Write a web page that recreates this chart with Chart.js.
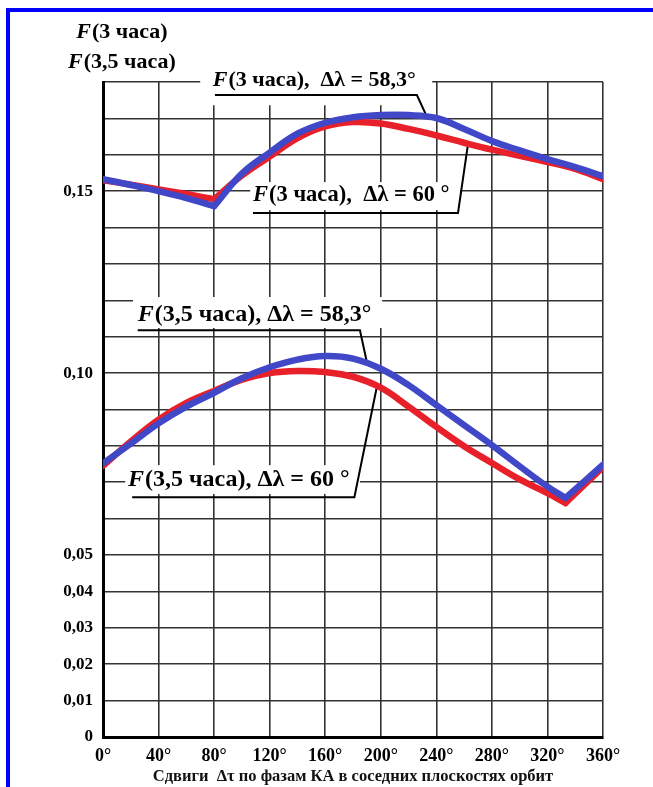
<!DOCTYPE html>
<html>
<head>
<meta charset="utf-8">
<script src="https://cdn.jsdelivr.net/npm/chart.js@4.4.1/dist/chart.umd.min.js"></script>
<style>
  html, body { margin: 0; padding: 0; background: #fff; overflow: hidden; }
  #frame { position: absolute; left: 6px; top: 8px; width: 700px; height: 900px;
           border-top: 4px solid #0000ff; border-left: 4px solid #0000ff; }
  canvas { position: absolute; left: 0; top: 0; }
</style>
</head>
<body>
<div id="frame"></div>
<canvas id="c" width="653" height="787"></canvas>
<script>
// shifts in degrees
const degUpper = [0, 20, 40, 60, 80, 100, 120, 140, 160, 180, 200, 220, 240, 260, 280, 300, 320, 340, 360];
const degLower = [0, 20, 40, 60, 80, 100, 120, 140, 160, 180, 200, 220, 240, 260, 280, 300, 320, 333, 360];

// F(3 часа)
const f3_583 = [0.1533, 0.1517, 0.1500, 0.1481, 0.1459, 0.1548, 0.1606, 0.1658, 0.1688, 0.1703, 0.1709, 0.1709, 0.1701, 0.1671, 0.1638, 0.1612, 0.1588, 0.1566, 0.1541];
const f3_60  = [0.1530, 0.1518, 0.1505, 0.1492, 0.1478, 0.1543, 0.1595, 0.1646, 0.1678, 0.1690, 0.1686, 0.1671, 0.1653, 0.1633, 0.1614, 0.1597, 0.1580, 0.1561, 0.1533];
// F(3,5 часа)
const f35_583 = [0.0752, 0.0806, 0.0862, 0.0908, 0.0946, 0.0986, 0.1016, 0.1037, 0.1047, 0.1040, 0.1012, 0.0967, 0.0912, 0.0857, 0.0802, 0.0744, 0.0688, 0.0657, 0.0748];
const f35_60  = [0.0745, 0.0812, 0.0872, 0.0918, 0.0951, 0.0982, 0.1000, 0.1006, 0.1003, 0.0990, 0.0960, 0.0908, 0.0852, 0.0799, 0.0753, 0.0708, 0.0670, 0.0643, 0.0742];

const xTicks = [0, 40, 80, 120, 160, 200, 240, 280, 320, 360];
const yLabelled = [0, 0.01, 0.02, 0.03, 0.04, 0.05, 0.10, 0.15];

const BLUE = "#4048c8";
const RED = "#e8202a";
const SERIF = '"Liberation Serif", "DejaVu Serif", serif';

// split a curve at its kink so the corner stays sharp
function pieces(xs, ys, kink, color, order) {
  const pts = xs.map((v, i) => ({ x: v, y: ys[i] }));
  return [pts.slice(0, kink + 1), pts.slice(kink)].map(p => ({
    data: p,
    borderColor: color,
    borderWidth: 6.5,
    borderCapStyle: "round",
    borderJoinStyle: "round",
    pointRadius: 0,
    tension: 0.4,
    order: order
  }));
}

// callout labels, positioned in data units
const notes = [
  { text: "(3 часа),  Δλ = 58,3°", size: 22, at: [79, 0.1805],
    box: [70, 0.1856, 237, 0.1736], leader: [[80.6, 0.1764], [226, 0.1764], [234, 0.1698]] },
  { text: "(3 часа),  Δλ = 60 °", size: 22.5, at: [108, 0.1489],
    box: [106, 0.1525, 257, 0.1448], leader: [[108, 0.1440], [255.6, 0.1440], [263, 0.1635]] },
  { text: "(3,5 часа), Δλ = 58,3°", size: 24, at: [25, 0.1159],
    box: [21.6, 0.1209, 201, 0.1124], leader: [[25, 0.1118], [185, 0.1118], [190, 0.1030]] },
  { text: "(3,5 часа), Δλ = 60 °", size: 24, at: [18, 0.0706],
    box: [16, 0.0747, 185, 0.0668], leader: [[21, 0.0659], [181, 0.0659], [197, 0.0959]] }
];

function richText(ctx, x, y, rest, size) {
  ctx.textBaseline = "middle";
  ctx.textAlign = "left";
  ctx.fillStyle = "#000";
  ctx.font = "italic bold " + size + "px " + SERIF;
  ctx.fillText("F", x, y);
  const w = ctx.measureText("F").width;
  ctx.font = "bold " + size + "px " + SERIF;
  ctx.fillText(rest, x + w + 1, y);
}

const notesPlugin = {
  id: "notes",
  beforeDatasetsDraw(chart) {
    const { ctx, scales: { x, y } } = chart;
    ctx.save();
    notes.forEach(n => {
      const x0 = x.getPixelForValue(n.box[0]), y0 = y.getPixelForValue(n.box[1]);
      const x1 = x.getPixelForValue(n.box[2]), y1 = y.getPixelForValue(n.box[3]);
      ctx.fillStyle = "#fff";
      ctx.fillRect(x0, y0, x1 - x0, y1 - y0);
      ctx.strokeStyle = "#000";
      ctx.lineWidth = 2;
      ctx.beginPath();
      n.leader.forEach((p, i) => {
        const px = x.getPixelForValue(p[0]), py = y.getPixelForValue(p[1]);
        if (i === 0) ctx.moveTo(px, py); else ctx.lineTo(px, py);
      });
      ctx.stroke();
      richText(ctx, x.getPixelForValue(n.at[0]), y.getPixelForValue(n.at[1]), n.text, n.size);
    });
    ctx.restore();
  },
  afterDraw(chart) {
    const { ctx, chartArea: a } = chart;
    ctx.save();
    // y axis title, two lines
    [["(3 часа)", a.top - 50], ["(3,5 часа)", a.top - 20]].forEach(([t, yy]) => {
      ctx.font = "italic bold 22px " + SERIF;
      const wf = ctx.measureText("F").width;
      ctx.font = "bold 22px " + SERIF;
      const wt = ctx.measureText(t).width;
      richText(ctx, a.left + 19 - (wf + wt + 1) / 2, yy, t, 22);
    });
    // x axis title
    ctx.font = "bold 16.5px " + SERIF;
    ctx.textAlign = "center";
    ctx.textBaseline = "middle";
    ctx.fillStyle = "#111";
    ctx.fillText("Сдвиги  Δτ по фазам КА в соседних плоскостях орбит", (a.left + a.right) / 2, a.bottom + 40);
    ctx.restore();
  }
};

new Chart(document.getElementById("c"), {
  type: "line",
  data: {
    datasets: [
      ...pieces(degUpper, f3_583, 4, BLUE, 0),
      ...pieces(degLower, f35_583, 17, BLUE, 0),
      ...pieces(degUpper, f3_60, 4, RED, 1),
      ...pieces(degLower, f35_60, 17, RED, 1)
    ]
  },
  options: {
    responsive: false,
    animation: false,
    layout: { padding: { left: 0, right: 50, top: 82, bottom: 0 } },
    plugins: { legend: { display: false }, tooltip: { enabled: false } },
    scales: {
      x: {
        type: "linear",
        min: 0,
        max: 360,
        afterFit: s => { s.height = 50; },
        afterBuildTicks: s => { s.ticks = xTicks.map(v => ({ value: v })); },
        grid: { color: "#333", lineWidth: 1.6, drawTicks: false },
        border: { display: true, color: "#000", width: 3 },
        ticks: {
          padding: 9,
          color: "#000",
          font: { family: SERIF, size: 18, weight: "bold" },
          callback: v => v + "°"
        }
      },
      y: {
        min: 0,
        max: 0.18,
        afterFit: s => { s.width = 103; },
        grid: { color: "#333", lineWidth: 1.6, drawTicks: false },
        border: { display: true, color: "#000", width: 3 },
        ticks: {
          stepSize: 0.01,
          autoSkip: false,
          padding: 10,
          color: "#000",
          font: { family: SERIF, size: 17, weight: "bold" },
          callback: v => {
            if (!yLabelled.some(t => Math.abs(t - v) < 1e-9)) return "";
            return v === 0 ? "0" : v.toFixed(2).replace(".", ",");
          }
        }
      }
    }
  },
  plugins: [notesPlugin]
});
</script>
</body>
</html>
